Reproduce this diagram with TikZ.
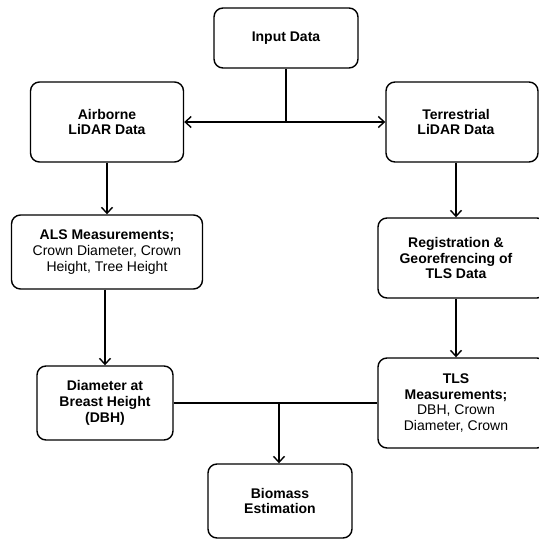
\documentclass[tikz,border=0pt]{standalone}
\usepackage{fontspec}
\setmainfont{Liberation Sans}
\usetikzlibrary{arrows.meta,positioning}

\tikzset{
  blok/.style={draw, rounded corners=9pt, line width=1.4pt, align=center,
    font=\fontsize{14}{15.7}\selectfont, inner sep=0pt},
  tekst/.style={align=center, font=\fontsize{14}{15.7}\selectfont, inner sep=0pt},
  lijn/.style={line width=1.4pt},
  pijl/.style={line width=1.4pt, -{Straight Barb[length=6pt,width=11pt]}},
}

\begin{document}
\begin{tikzpicture}[x=1pt,y=-1pt]
    \clip (0,0) rectangle (539,539);
    \fill[white] (0,0) rectangle (539,539);
    % boxes
    \node[blok, minimum width=144, minimum height=60] (input) at (286,38) {\bfseries Input Data};
    \node[blok, minimum width=153, minimum height=80] (air) at (107,122) {\bfseries Airborne\\ \bfseries LiDAR Data};
    \node[blok, minimum width=152, minimum height=80] (terr) at (462,122) {};
    \node[tekst] (terrtxt) at (456,122) {\bfseries Terrestrial\\ \bfseries LiDAR Data};
    \node[blok, minimum width=191, minimum height=74] (als) at (107,252) {\textbf{ALS Measurements;}\\ Crown Diameter, Crown\\ Height, Tree Height};
    \node[blok, minimum width=168, minimum height=80] (reg) at (462,258) {};
    \node[tekst] (regtxt) at (456,258) {\bfseries Registration \&\\ \bfseries Georefrencing of\\ \bfseries TLS Data};
    \node[blok, minimum width=136, minimum height=74] (diam) at (105,403) {\bfseries Diameter at\\ \bfseries Breast Height\\ \bfseries (DBH)};
    \node[blok, minimum width=168, minimum height=90] (tls) at (462,403) {};
    \node[tekst] (tlstxt) at (456,403) {\textbf{TLS}\\ \textbf{Measurements;}\\ DBH, Crown\\ Diameter, Crown};
    \node[blok, minimum width=144, minimum height=74] (bio) at (280,501) {\bfseries Biomass\\ \bfseries Estimation};
    % connectors
    \coordinate (split) at (286,122);
    \coordinate (join) at (279,403);
    \draw[lijn] (input) -- (split);
    \draw[pijl] (split) -- (air);
    \draw[pijl] (split) -- (terr);
    \draw[pijl] (air) -- (als);
    \draw[pijl] (terrtxt |- terr.south) -- (terrtxt |- reg.north);
    \draw[pijl] (als.south -| diam) -- (diam);
    \draw[pijl] (regtxt |- reg.south) -- (regtxt |- tls.north);
    \draw[lijn] (diam) -- (tls);
    \draw[pijl] (join) -- (join |- bio.north);
\end{tikzpicture}
\end{document}
